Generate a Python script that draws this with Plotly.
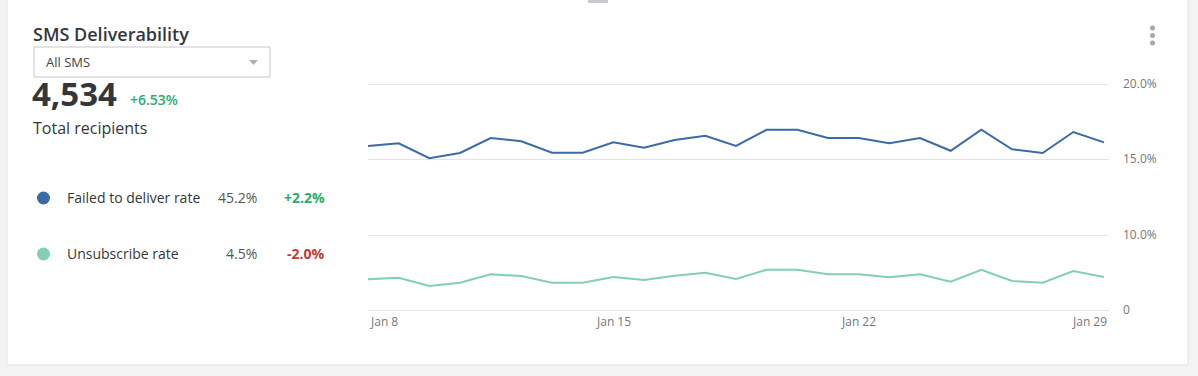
import plotly.graph_objects as go
from plotly.subplots import make_subplots

# ---------------- data ----------------
point_index = list(range(25))
failed_rate = [15.87, 16.05, 15.05, 15.40, 16.40, 16.18, 15.42, 15.42, 16.11, 15.75,
               16.27, 16.55, 15.87, 16.95, 16.95, 16.40, 16.40, 16.05, 16.40, 15.55,
               16.95, 15.65, 15.40, 16.80, 16.11]
unsub_rate = [4.09, 4.31, 3.20, 3.64, 4.76, 4.53, 3.64, 3.64, 4.40, 4.00,
              4.57, 4.97, 4.13, 5.37, 5.37, 4.76, 4.76, 4.36, 4.76, 3.77,
              5.37, 3.87, 3.64, 5.20, 4.40]
x_tick_index = [0, 8, 16, 24]
x_tick_labels = ["Jan 8", "Jan 15", "Jan 22", "Jan 29"]
top_ticks = [15, 20]
top_tick_labels = ["15.0%", "20.0%"]
bottom_ticks = [0, 10]
bottom_tick_labels = ["0", "10.0%"]

title_text = "SMS Deliverability"
dropdown_text = "All SMS"
total_value = "4,534"
total_change = "+6.53%"
total_label = "Total recipients"
series_names = ["Failed to deliver rate", "Unsubscribe rate"]
series_values = ["45.2%", "4.5%"]
series_changes = ["+2.2%", "-2.0%"]

# ---------------- style ----------------
W, H = 1198, 376
FONT = "Open Sans"
BLUE = "#3b6ba7"
GREEN = "#82cfb3"
POS = "#2eaa6a"
NEG = "#c23b2e"
DARK = "#33373b"
GRID = "#e4e4e4"
TICK = "#777777"
OUTSIDE = "#f3f3f3"


def px(x):
    return x / W


def py(y):
    return 1 - y / H


fig = make_subplots(rows=2, cols=1, shared_xaxes=True)

fig.add_trace(go.Scatter(x=point_index, y=failed_rate, mode="lines",
                         line=dict(color=BLUE, width=2), name=series_names[0],
                         hoverinfo="y"), row=1, col=1)
fig.add_trace(go.Scatter(x=point_index, y=unsub_rate, mode="lines",
                         line=dict(color=GREEN, width=2), name=series_names[1],
                         hoverinfo="y"), row=2, col=1)

x_dom = [px(368), px(1109)]
x_range = [0, 24 + 5 / 30.67]
fig.update_xaxes(domain=x_dom, range=x_range, showgrid=False, zeroline=False,
                 showticklabels=False, showline=False, ticks="", automargin=False)
fig.update_yaxes(side="right", showline=False, zeroline=False, ticks="",
                 showgrid=True, gridcolor=GRID, gridwidth=1, automargin=False,
                 tickfont=dict(family=FONT, size=12, color=TICK),
                 ticklabelstandoff=13)
# 6 px of breathing room above/below each panel so grid lines are not at the edge
top_pad = 6 * 5 / 75
bot_pad = 6 * 10 / 75
fig.update_layout(
    yaxis=dict(domain=[py(165), py(78)], range=[15 - top_pad, 20 + top_pad],
               tickvals=top_ticks, ticktext=top_tick_labels),
    yaxis2=dict(domain=[py(316), py(229)], range=[0 - bot_pad, 10 + bot_pad],
                tickvals=bottom_ticks, ticktext=bottom_tick_labels),
)

shapes = []
# page background outside the card (card itself is the white paper)
for x0, x1, y0, y1 in ((0, 7, 0, 376), (1188, 1198, 0, 376), (0, 1198, 365, 376)):
    shapes.append(dict(type="rect", xref="paper", yref="paper",
                       x0=px(x0), x1=px(x1), y0=py(y1), y1=py(y0),
                       fillcolor=OUTSIDE, line=dict(width=0), layer="below"))
# soft card edge
shapes.append(dict(type="path", xref="paper", yref="paper",
                   path=f"M {px(7)} {py(0)} L {px(7)} {py(365)} L {px(1188)} {py(365)} L {px(1188)} {py(0)}",
                   line=dict(color="#e4e4e4", width=1), layer="below"))
# little tab at top
shapes.append(dict(type="rect", xref="paper", yref="paper",
                   x0=px(588), x1=px(608), y0=py(3), y1=py(0),
                   fillcolor="#c9c9cf", line=dict(width=0)))
# dropdown box
shapes.append(dict(type="rect", xref="paper", yref="paper",
                   x0=px(34), x1=px(270), y0=py(77), y1=py(47),
                   fillcolor="white", line=dict(color="#c8c8c8", width=1)))
# dropdown arrow
shapes.append(dict(type="path", xref="paper", yref="paper",
                   path=f"M {px(249)} {py(60)} L {px(258)} {py(60)} L {px(253.5)} {py(65)} Z",
                   fillcolor="#b0b0b0", line=dict(width=0)))
# menu dots
for yy in (28, 35.5, 43):
    shapes.append(dict(type="circle", xref="paper", yref="paper",
                       x0=px(1150), x1=px(1155), y0=py(yy + 2.5), y1=py(yy - 2.5),
                       fillcolor="#a8a8a8", line=dict(width=0)))
# legend dots
for yy, col in ((198, BLUE), (254, GREEN)):
    shapes.append(dict(type="circle", xref="paper", yref="paper",
                       x0=px(37), x1=px(50), y0=py(yy + 6.5), y1=py(yy - 6.5),
                       fillcolor=col, line=dict(width=0)))

ann = []


def text(x, y, s, size, color, xanchor="left", weight="normal"):
    ann.append(dict(x=px(x), y=py(y), xref="paper", yref="paper", text=s,
                    showarrow=False, xanchor=xanchor, yanchor="middle",
                    font=dict(family=FONT, size=size, color=color, weight=weight)))


text(31, 34, title_text, 18, DARK, weight=600)
text(44, 62, dropdown_text, 13, "#444444")
text(30, 93, total_value, 33, DARK, weight="bold")
text(128, 99, total_change, 14, POS, weight=600)
text(31, 128, total_label, 16, DARK)
for yy, name, val, chg, ccol in ((198, series_names[0], series_values[0], series_changes[0], POS),
                                 (254, series_names[1], series_values[1], series_changes[1], NEG)):
    text(65, yy, name, 14, DARK)
    text(259, yy, val, 14, "#555555", xanchor="right")
    text(327, yy, chg, 14, ccol, xanchor="right", weight="bold")

# x-axis labels placed on data coordinates of the lower subplot
for i, (xi, lab) in enumerate(zip(x_tick_index, x_tick_labels)):
    anchor = "left" if i == 0 else ("right" if i == len(x_tick_index) - 1 else "center")
    ann.append(dict(x=xi, y=0, xref="x2", yref="y2", text=lab, showarrow=False,
                    xanchor=anchor, yanchor="top", yshift=-1,
                    xshift=(5 if anchor == "right" else 0),
                    font=dict(family=FONT, size=12, color=TICK)))

fig.update_layout(
    width=W, height=H, autosize=False,
    margin=dict(l=0, r=0, t=0, b=0, pad=0, autoexpand=False),
    paper_bgcolor="white", plot_bgcolor="rgba(0,0,0,0)",
    showlegend=False, shapes=shapes, annotations=ann,
    font=dict(family=FONT),
)

post = """
document.body.style.margin='0';
document.body.style.overflow='hidden';
"""
fig.write_html("out.html", config={"displayModeBar": False}, post_script=post)
